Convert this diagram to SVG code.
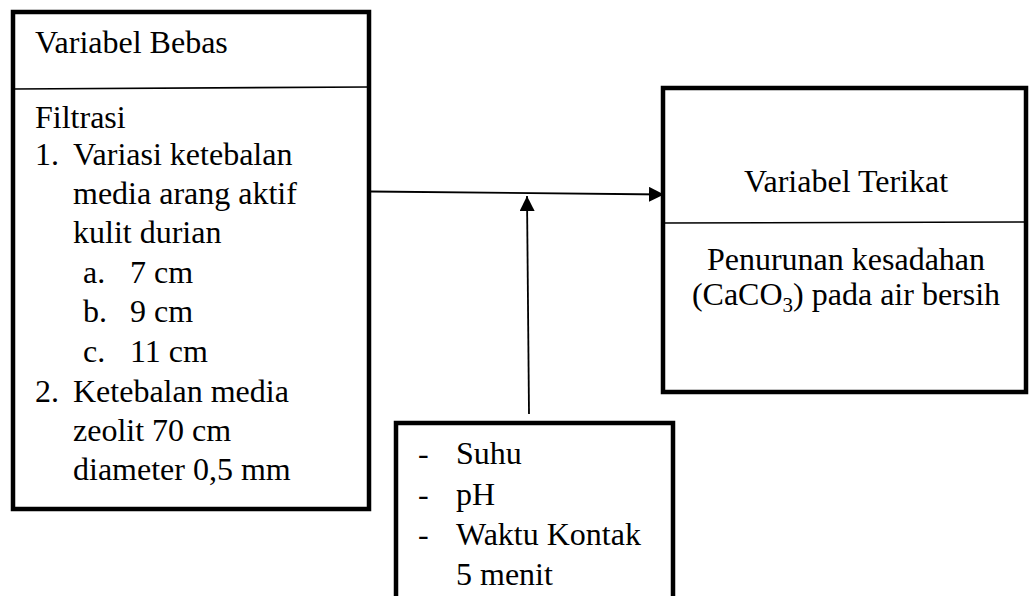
<svg xmlns="http://www.w3.org/2000/svg" width="1029" height="596" viewBox="0 0 1029 596">
<defs>
<marker id="ah" markerWidth="16" markerHeight="16" refX="15" refY="7.5" orient="auto" markerUnits="userSpaceOnUse">
<path d="M0,0 L15,7.5 L0,15 Z" fill="#000"/>
</marker>
</defs>
<g id="bebas" font-family="Liberation Serif, Times New Roman, serif" font-size="32">
<rect fill="#fff" stroke="#000" stroke-width="4.5" x="13" y="12" width="356" height="497"/>
<line stroke="#000" stroke-width="1.6" x1="13" y1="89" x2="369" y2="87"/>
<text x="35" y="53">Variabel Bebas</text>
<text x="35" y="128">Filtrasi</text>
<text x="35" y="165">1.</text>
<text x="73" y="165">Variasi ketebalan</text>
<text x="73" y="204">media arang aktif</text>
<text x="73" y="243">kulit durian</text>
<text x="83" y="283">a.</text>
<text x="130" y="283">7 cm</text>
<text x="83" y="322">b.</text>
<text x="130" y="322">9 cm</text>
<text x="83" y="362">c.</text>
<text x="130" y="362">11 cm</text>
<text x="35" y="402">2.</text>
<text x="73" y="402">Ketebalan media</text>
<text x="73" y="441">zeolit 70 cm</text>
<text x="73" y="480">diameter 0,5 mm</text>
</g>
<g id="terikat" font-family="Liberation Serif, Times New Roman, serif" font-size="32" text-anchor="middle">
<rect fill="#fff" stroke="#000" stroke-width="4.5" x="663" y="88" width="363" height="304"/>
<line stroke="#000" stroke-width="1.6" x1="663" y1="223" x2="1026" y2="222"/>
<text x="846" y="192">Variabel Terikat</text>
<text x="846" y="270">Penurunan kesadahan</text>
<text x="846" y="305">(CaCO<tspan font-size="21" dy="7">3</tspan><tspan dy="-7">) pada air bersih</tspan></text>
</g>
<g id="kontrol" font-family="Liberation Serif, Times New Roman, serif" font-size="32">
<rect fill="#fff" stroke="#000" stroke-width="4.5" x="396" y="423" width="277" height="190"/>
<text x="418" y="464">-</text>
<text x="456" y="464">Suhu</text>
<text x="418" y="505">-</text>
<text x="456" y="505">pH</text>
<text x="418" y="545">-</text>
<text x="456" y="545">Waktu Kontak</text>
<text x="456" y="585">5 menit</text>
</g>
<g id="connectors" stroke="#000" stroke-width="1.8" fill="none">
<line x1="370" y1="191.5" x2="664" y2="194.5" marker-end="url(#ah)"/>
<line x1="529" y1="414" x2="527" y2="196" marker-end="url(#ah)"/>
</g>
</svg>
